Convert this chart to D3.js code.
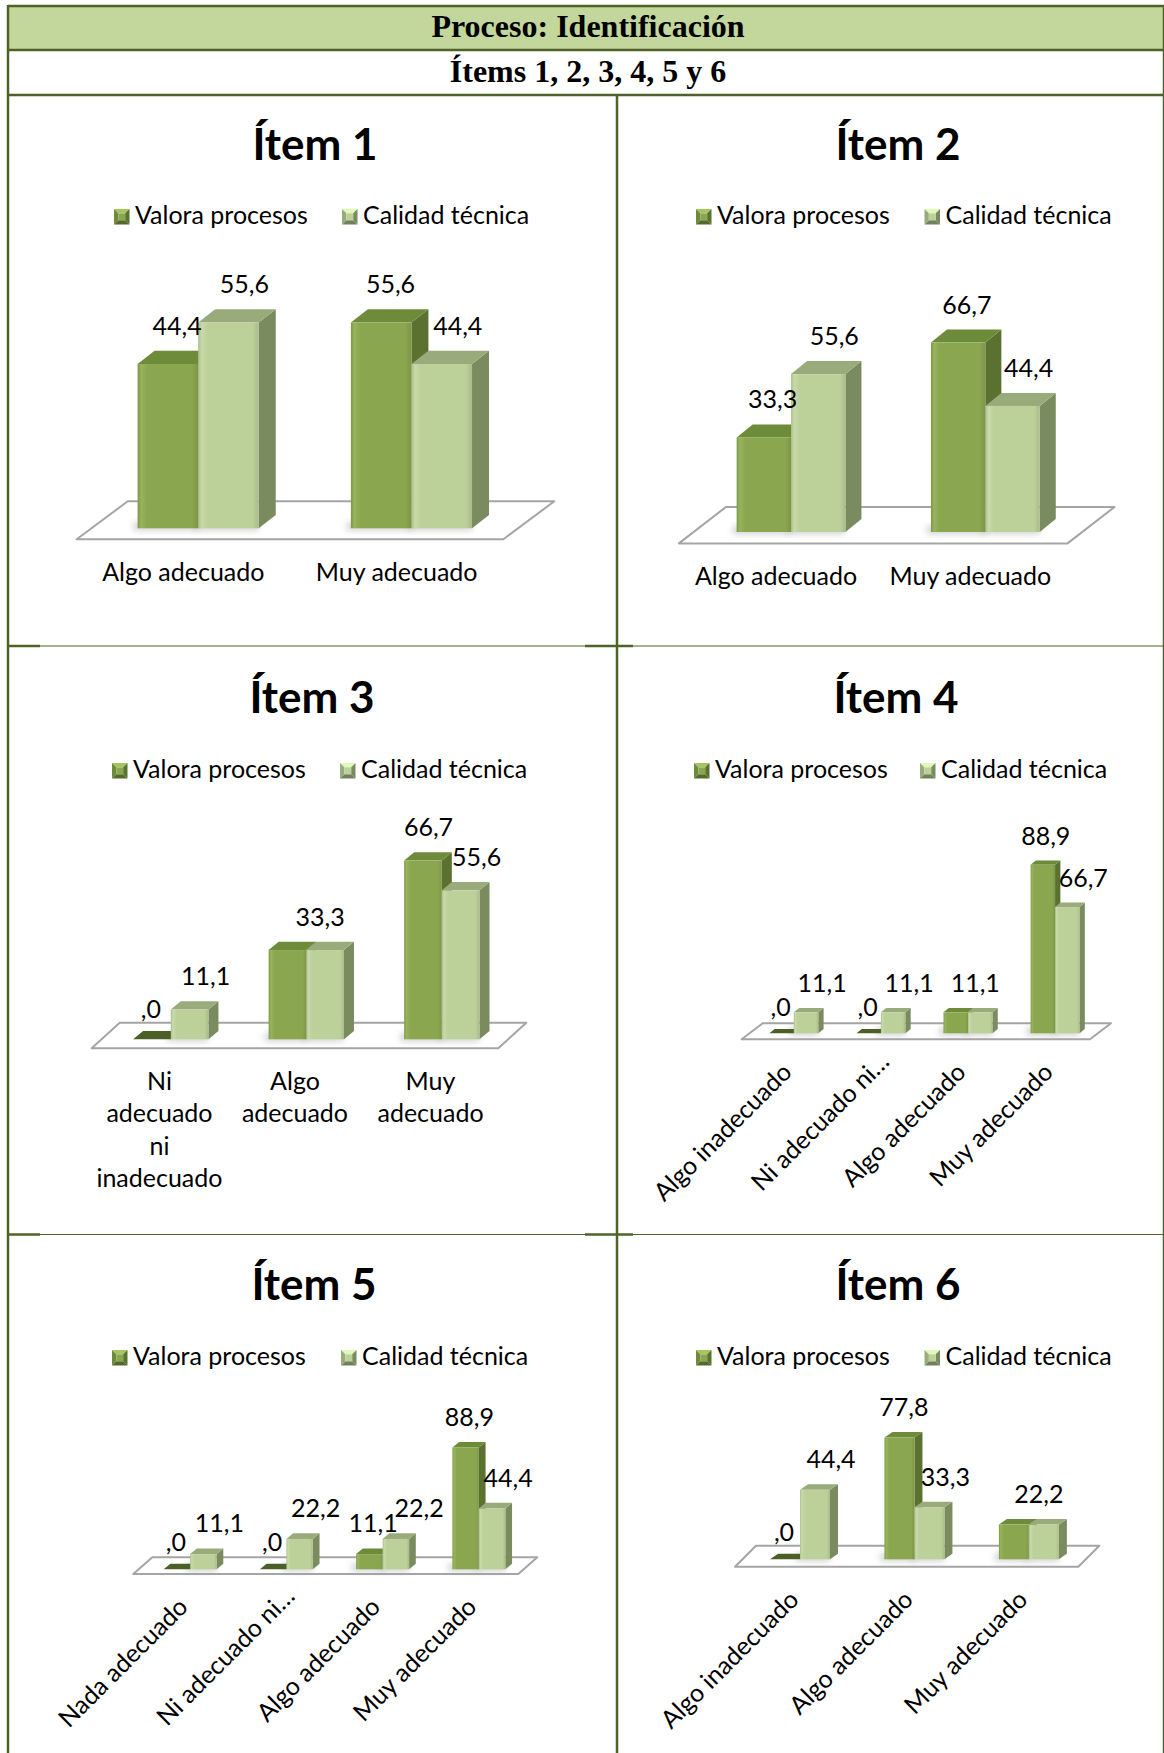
<!DOCTYPE html>
<html>
<head>
<meta charset="utf-8">
<script src="https://cdnjs.cloudflare.com/ajax/libs/d3/7.8.5/d3.min.js"></script>
<style>
  body { margin: 0; background: #ffffff; }
  svg { display: block; }
</style>
</head>
<body>
<svg id="chart" width="1164" height="1753"></svg>
<script>
// ---- Data ---------------------------------------------------------------
const seriesNames = ["Valora procesos", "Calidad técnica"];
const itemTitles = ["Ítem 1", "Ítem 2", "Ítem 3", "Ítem 4", "Ítem 5", "Ítem 6"];

const item1Categories = ["Algo adecuado", "Muy adecuado"];
const item1Valora = [44.4, 55.6];
const item1Calidad = [55.6, 44.4];

const item2Categories = ["Algo adecuado", "Muy adecuado"];
const item2Valora = [33.3, 66.7];
const item2Calidad = [55.6, 44.4];

const item3Categories = ["Ni adecuado ni inadecuado", "Algo adecuado", "Muy adecuado"];
const item3Valora = [0, 33.3, 66.7];
const item3Calidad = [11.1, 33.3, 55.6];

const item4Categories = ["Algo inadecuado", "Ni adecuado ni…", "Algo adecuado", "Muy adecuado"];
const item4Valora = [0, 0, 11.1, 88.9];
const item4Calidad = [11.1, 11.1, 11.1, 66.7];

const item5Categories = ["Nada adecuado", "Ni adecuado ni…", "Algo adecuado", "Muy adecuado"];
const item5Valora = [0, 0, 11.1, 88.9];
const item5Calidad = [11.1, 22.2, 22.2, 44.4];

const item6Categories = ["Algo inadecuado", "Algo adecuado", "Muy adecuado"];
const item6Valora = [0, 77.8, 22.2];
const item6Calidad = [44.4, 33.3, 22.2];

const headerTitle = "Proceso: Identificación";
const headerSubtitle = "Ítems 1, 2, 3, 4, 5 y 6";

const charts = [
  { title: itemTitles[0], categories: item1Categories, values: [item1Valora, item1Calidad] },
  { title: itemTitles[1], categories: item2Categories, values: [item2Valora, item2Calidad] },
  { title: itemTitles[2], categories: item3Categories, values: [item3Valora, item3Calidad] },
  { title: itemTitles[3], categories: item4Categories, values: [item4Valora, item4Calidad] },
  { title: itemTitles[4], categories: item5Categories, values: [item5Valora, item5Calidad] },
  { title: itemTitles[5], categories: item6Categories, values: [item6Valora, item6Calidad] }
];

// ---- Layout of each 3-D column chart inside the table -------------------
const layouts = [
  { cx: 315, titleY: 160, legendY: 224, legendX: [114, 342],
    floor: { x0: 76.7, x1: 503.3, y: 539.3, dx: 51, dy: -38 },
    barOffset: [14.8, -11], barFrac: 0.284, depth: [17, -13.3], yMax: 60, yPx: 222, axisLabels: "flat" },
  { cx: 898, titleY: 160, legendY: 224, legendX: [696, 924.5],
    floor: { x0: 678.9, x1: 1067.5, y: 543.4, dx: 47, dy: -36.4 },
    barOffset: [15, -11.4], barFrac: 0.28, depth: [16, -13], yMax: 80, yPx: 227.2, axisLabels: "flat" },
  { cx: 312, titleY: 713, legendY: 778, legendX: [112, 340],
    floor: { x0: 91.7, x1: 498.3, y: 1048.3, dx: 28, dy: -25.6 },
    barOffset: [11.3, -9], barFrac: 0.278, depth: [10, -8.3], yMax: 80, yPx: 214.4, axisLabels: "wrap" },
  { cx: 896, titleY: 713, legendY: 778, legendX: [694, 920],
    floor: { x0: 741.7, x1: 1090, y: 1039.3, dx: 21, dy: -16 },
    barOffset: [8.6, -6], barFrac: 0.281, depth: [5.3, -4.3], yMax: 100, yPx: 189.5, axisLabels: "rotate" },
  { cx: 314, titleY: 1300, legendY: 1365, legendX: [112, 341],
    floor: { x0: 133.3, x1: 518.3, y: 1574, dx: 19, dy: -16.7 },
    barOffset: [8.7, -4.7], barFrac: 0.275, depth: [6.7, -5.6], yMax: 100, yPx: 137, axisLabels: "rotate" },
  { cx: 898, titleY: 1300, legendY: 1365, legendX: [696, 924.5],
    floor: { x0: 735, x1: 1078.3, y: 1566.7, dx: 21, dy: -21 },
    barOffset: [7.8, -7.4], barFrac: 0.262, depth: [8, -5.5], yMax: 100, yPx: 156.5, axisLabels: "rotate" }
];

// Face colours for each series: front, top, side, flat (zero height)
const palette = {
  "Valora procesos": { front: "#8aa64f", light: "#97b45b", top: "#6d8b38", side: "#5b7130", flat: "#4b5f27" },
  "Calidad técnica": { front: "#bcd09a", light: "#c8daa8", top: "#99ab7a", side: "#7a8b60", flat: "#6f7f55" }
};

const FONT = "Lato, 'Open Sans', sans-serif";
const TEXT_SIZE = 25;
const BORDER = "#4f6228";

const svg = d3.select("#chart");
const defs = svg.append("defs");

// horizontal shading on the front faces
seriesNames.forEach((s, i) => {
  const c = palette[s];
  const g = defs.append("linearGradient").attr("id", "front" + i)
    .attr("x1", 0).attr("x2", 1).attr("y1", 0).attr("y2", 0);
  g.append("stop").attr("offset", "0%").attr("stop-color", d3.color(c.front).darker(0.25));
  g.append("stop").attr("offset", "6%").attr("stop-color", c.light);
  g.append("stop").attr("offset", "16%").attr("stop-color", c.front);
  g.append("stop").attr("offset", "90%").attr("stop-color", c.front);
  g.append("stop").attr("offset", "100%").attr("stop-color", d3.color(c.front).darker(0.3));
});
defs.append("filter").attr("id", "soft").attr("x", "-50%").attr("y", "-50%").attr("width", "200%").attr("height", "200%")
  .append("feGaussianBlur").attr("stdDeviation", 3);

// ---- Table frame --------------------------------------------------------
const table = svg.append("g");
table.append("rect").attr("x", 8).attr("y", 6).attr("width", 1156).attr("height", 44).attr("fill", "#c3d69b");

const line = (x1, y1, x2, y2, w, c) => table.append("line")
  .attr("x1", x1).attr("y1", y1).attr("x2", x2).attr("y2", y2)
  .attr("stroke", c || BORDER).attr("stroke-width", w);

line(8, 6, 1164, 6, 2.5);
line(8, 50, 1164, 50, 2.5);
line(8, 95, 1164, 95, 2.5);
line(8, 5, 8, 1753, 2.5);
line(1164, 5, 1164, 1753, 2.5);
line(617, 95, 617, 1753, 2.5);
// row separators: thin where the chart pictures sit, heavier at the cell corners
[646, 1234.5].forEach(y => {
  line(8, y, 1164, y, 1.2);
  line(8, y, 40, y, 2.5);
  line(585, y, 633, y, 2.5);
});

table.append("text").attr("x", 588).attr("y", 37)
  .attr("text-anchor", "middle").attr("font-family", "'Liberation Serif', 'Times New Roman', serif")
  .attr("font-weight", "bold").attr("font-size", 32).text(headerTitle);
table.append("text").attr("x", 588).attr("y", 82)
  .attr("text-anchor", "middle").attr("font-family", "'Liberation Serif', 'Times New Roman', serif")
  .attr("font-weight", "bold").attr("font-size", 32).text(headerSubtitle);

// ---- Helpers ------------------------------------------------------------
const fmt = v => {
  let s = d3.format(".1f")(v).replace(".", ",");
  if (s.startsWith("0,")) s = s.slice(1);
  return s;
};
const poly = pts => pts.map(p => p.join(",")).join(" ");

function legendMarker(g, x, y, size, s) {
  const c = palette[s];
  const inset = size * 0.28;
  const a = [x, y], b = [x + size, y], cc = [x + size, y + size], d = [x, y + size];
  const ia = [x + inset, y + inset], ib = [x + size - inset, y + inset],
        ic = [x + size - inset, y + size - inset], id = [x + inset, y + size - inset];
  g.append("polygon").attr("points", poly([a, b, ib, ia])).attr("fill", d3.color(c.front).brighter(0.5));
  g.append("polygon").attr("points", poly([b, cc, ic, ib])).attr("fill", c.side);
  g.append("polygon").attr("points", poly([cc, d, id, ic])).attr("fill", d3.color(c.side).darker(0.2));
  g.append("polygon").attr("points", poly([d, a, ia, id])).attr("fill", c.top);
  g.append("rect").attr("x", ia[0]).attr("y", ia[1]).attr("width", size - 2 * inset).attr("height", size - 2 * inset)
    .attr("fill", c.front);
}

// ---- Draw one chart -----------------------------------------------------
function drawChart(chart, L) {
  const g = svg.append("g");
  const F = L.floor;

  // title
  g.append("text").attr("x", L.cx).attr("y", L.titleY).attr("text-anchor", "middle")
    .attr("font-family", FONT).attr("font-weight", "bold").attr("font-size", 44).attr("fill", "#000")
    .text(chart.title);

  // legend
  seriesNames.forEach((s, i) => {
    const lx = L.legendX[i];
    legendMarker(g, lx, L.legendY - 15, 15.5, s);
    g.append("text").attr("x", lx + 21).attr("y", L.legendY)
      .attr("font-family", FONT).attr("font-size", TEXT_SIZE).attr("fill", "#000").text(s);
  });

  // scales
  const x = d3.scaleBand().domain(chart.categories).range([F.x0, F.x1]).paddingInner(0).paddingOuter(0);
  const pOuter = (1 / L.barFrac - seriesNames.length) / 2;
  const xs = d3.scaleBand().domain(seriesNames).range([0, x.bandwidth()]).paddingInner(0).paddingOuter(pOuter);
  const h = d3.scaleLinear().domain([0, L.yMax]).range([0, L.yPx]);

  // floor
  g.append("polygon")
    .attr("points", poly([[F.x0, F.y], [F.x1, F.y], [F.x1 + F.dx, F.y + F.dy], [F.x0 + F.dx, F.y + F.dy]]))
    .attr("fill", "#ffffff").attr("stroke", "#a5a5a5").attr("stroke-width", 2).attr("stroke-linejoin", "round");

  const baseY = F.y + L.barOffset[1];
  const [ddx, ddy] = L.depth;
  const w = xs.bandwidth();

  // soft shadows of the columns on the floor
  chart.categories.forEach((cat, ci) => {
    seriesNames.forEach((s, si) => {
      const v = chart.values[si][ci];
      if (v <= 0) return;
      const bx = x(cat) + L.barOffset[0] + xs(s);
      g.append("rect").attr("x", bx - 4).attr("y", baseY - 6).attr("width", w + 4).attr("height", 8)
        .attr("fill", "#9a9a9a").attr("opacity", 0.45).attr("filter", "url(#soft)");
    });
  });

  // columns, drawn left to right so neighbours overlap correctly
  const labels = [];
  const labelW = t => t.length * TEXT_SIZE * 0.44;
  chart.categories.forEach((cat, ci) => {
    let prev = null;
    seriesNames.forEach((s, si) => {
      const v = chart.values[si][ci];
      const c = palette[s];
      const bx = x(cat) + L.barOffset[0] + xs(s);
      const bh = h(v);
      const ty = baseY - bh;
      if (bh > 0.5) {
        g.append("polygon").attr("points", poly([[bx + w, ty], [bx + w + ddx, ty + ddy], [bx + w + ddx, baseY + ddy], [bx + w, baseY]]))
          .attr("fill", c.side);
        g.append("polygon").attr("points", poly([[bx, ty], [bx + w, ty], [bx + w + ddx, ty + ddy], [bx + ddx, ty + ddy]]))
          .attr("fill", c.top);
        g.append("rect").attr("x", bx).attr("y", ty).attr("width", w).attr("height", bh)
          .attr("fill", `url(#front${si})`);
      } else {
        g.append("polygon").attr("points", poly([[bx, baseY], [bx + w, baseY], [bx + w + ddx, baseY + ddy], [bx + ddx, baseY + ddy]]))
          .attr("fill", c.flat);
      }

      // value labels; a pair of equal values shares one label
      const other = chart.values[1 - si][ci];
      if (si === 0 && v === other && v > 0) return;
      const text = fmt(v);
      let lx;
      if (v === 0) lx = bx + w / 2 - 1;
      else if (si === 0) lx = bx + w / 2 + ddx * 0.55;
      else if (v === other) lx = bx + w / 2 - 5;
      else lx = bx + w / 2 + 16;
      const ly = ty + ddy - (v === 0 ? 13 : 16);
      // keep the second label clear of the first one
      if (prev && Math.abs(prev.y - ly) < TEXT_SIZE * 0.75) {
        const minX = prev.x + labelW(prev.text) / 2 + labelW(text) / 2 + 2;
        if (lx < minX) lx = minX;
      }
      const lab = { x: lx, y: ly, text };
      labels.push(lab);
      prev = lab;
    });
  });

  g.selectAll("text.value").data(labels).join("text").attr("class", "value")
    .attr("x", d => d.x).attr("y", d => d.y).attr("text-anchor", "middle")
    .attr("font-family", FONT).attr("font-size", TEXT_SIZE).attr("fill", "#000").text(d => d.text);

  // category labels along the front edge of the floor
  const cx = cat => x(cat) + x.bandwidth() / 2;
  if (L.axisLabels === "flat") {
    chart.categories.forEach(cat => {
      g.append("text").attr("x", cx(cat)).attr("y", F.y + 41.5).attr("text-anchor", "middle")
        .attr("font-family", FONT).attr("font-size", TEXT_SIZE).attr("fill", "#000").text(cat);
    });
  } else if (L.axisLabels === "wrap") {
    chart.categories.forEach(cat => {
      const t = g.append("text").attr("text-anchor", "middle")
        .attr("font-family", FONT).attr("font-size", TEXT_SIZE).attr("fill", "#000");
      cat.split(" ").forEach((word, i) => {
        t.append("tspan").attr("x", cx(cat)).attr("y", F.y + 41.5 + i * 32.5).text(word);
      });
    });
  } else {
    chart.categories.forEach(cat => {
      const ex = cat.endsWith("…") ? 15 : 0;
      g.append("text")
        .attr("transform", `translate(${cx(cat) + 3},${F.y + 29.5}) rotate(-45)`)
        .attr("x", ex).attr("dy", "0.28em").attr("text-anchor", "end")
        .attr("font-family", FONT).attr("font-size", TEXT_SIZE).attr("fill", "#000").text(cat);
    });
  }
}

charts.forEach((c, i) => drawChart(c, layouts[i]));
</script>
</body>
</html>
